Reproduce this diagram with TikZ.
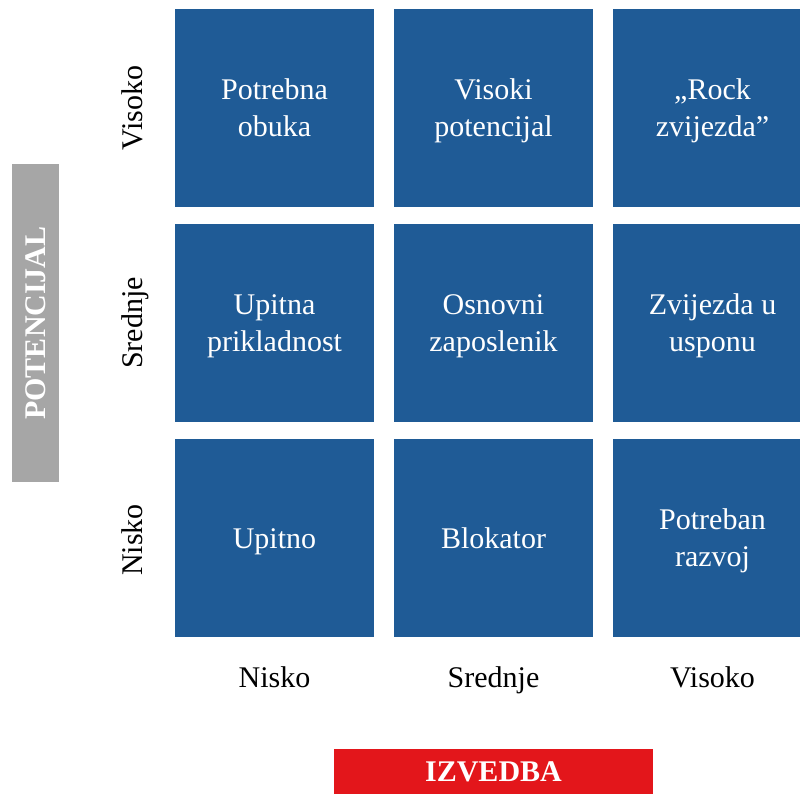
\documentclass[tikz,border=0pt]{standalone}
\usepackage{fontspec}
\setmainfont{Liberation Serif}
\definecolor{cellblue}{RGB}{31,91,150}
\definecolor{bargray}{RGB}{166,166,166}
\definecolor{barred}{RGB}{227,22,27}
\newcommand{\cl}[1]{\strut#1}
\begin{document}
\begin{tikzpicture}[x=1pt,y=-1pt,
  cell/.style={fill=cellblue, minimum width=199pt, minimum height=198pt, inner sep=0pt},
  celltext/.style={text=white, inner sep=0pt, align=center, font=\fontsize{30}{37}\selectfont},
  axislbl/.style={font=\fontsize{30}{36}\selectfont, text=black, inner sep=0pt, anchor=base},
  barlbl/.style={inner sep=0pt, font=\bfseries\fontsize{30}{36}\selectfont, text=white}]
\useasboundingbox (0,0) rectangle (800,794);
% cells
\node[cell] (c11) at (274.5,108) {};
\node[cell] (c12) at (493.5,108) {};
\node[cell] (c13) at (712.5,108) {};
\node[cell] (c21) at (274.5,323) {};
\node[cell] (c22) at (493.5,323) {};
\node[cell] (c23) at (712.5,323) {};
\node[cell] (c31) at (274.5,538) {};
\node[cell] (c32) at (493.5,538) {};
\node[cell] (c33) at (712.5,538) {};
\node[celltext] (t11) at ([yshift=-3pt]c11.center) {\cl{Potrebna}\\\cl{obuka}};
\node[celltext] (t12) at ([yshift=-3pt]c12.center) {\cl{Visoki}\\\cl{potencijal}};
\node[celltext] (t13) at ([yshift=-3pt]c13.center) {\cl{„Rock}\\\cl{zvijezda”}};
\node[celltext] (t21) at ([yshift=-3pt]c21.center) {\cl{Upitna}\\\cl{prikladnost}};
\node[celltext] (t22) at ([yshift=-3pt]c22.center) {\cl{Osnovni}\\\cl{zaposlenik}};
\node[celltext] (t23) at ([yshift=-3pt]c23.center) {\cl{Zvijezda u}\\\cl{usponu}};
\node[celltext] (t31) at ([yshift=-3pt]c31.center) {\cl{Upitno}};
\node[celltext] (t32) at ([yshift=-3pt]c32.center) {\cl{Blokator}};
\node[celltext] (t33) at ([yshift=-3pt]c33.center) {\cl{Potreban}\\\cl{razvoj}};
% row labels
\node[axislbl, rotate=90] (rv) at (142,108) {Visoko};
\node[axislbl, rotate=90] (rs) at (142,323) {Srednje};
\node[axislbl, rotate=90] (rn) at (142,540) {Nisko};
% column labels
\node[axislbl] (cn) at (274.5,687) {Nisko};
\node[axislbl] (cs) at (493.5,687) {Srednje};
\node[axislbl] (cv) at (712.5,687) {Visoko};
% axis bars
\node[barlbl, fill=bargray, rotate=90, minimum width=318pt, minimum height=47pt] (pot) at (35.5,323) {POTENCIJAL};
\node[barlbl, fill=barred, minimum width=319pt, minimum height=46pt] (izv) at (493.5,772) {IZVEDBA};
\end{tikzpicture}
\end{document}
